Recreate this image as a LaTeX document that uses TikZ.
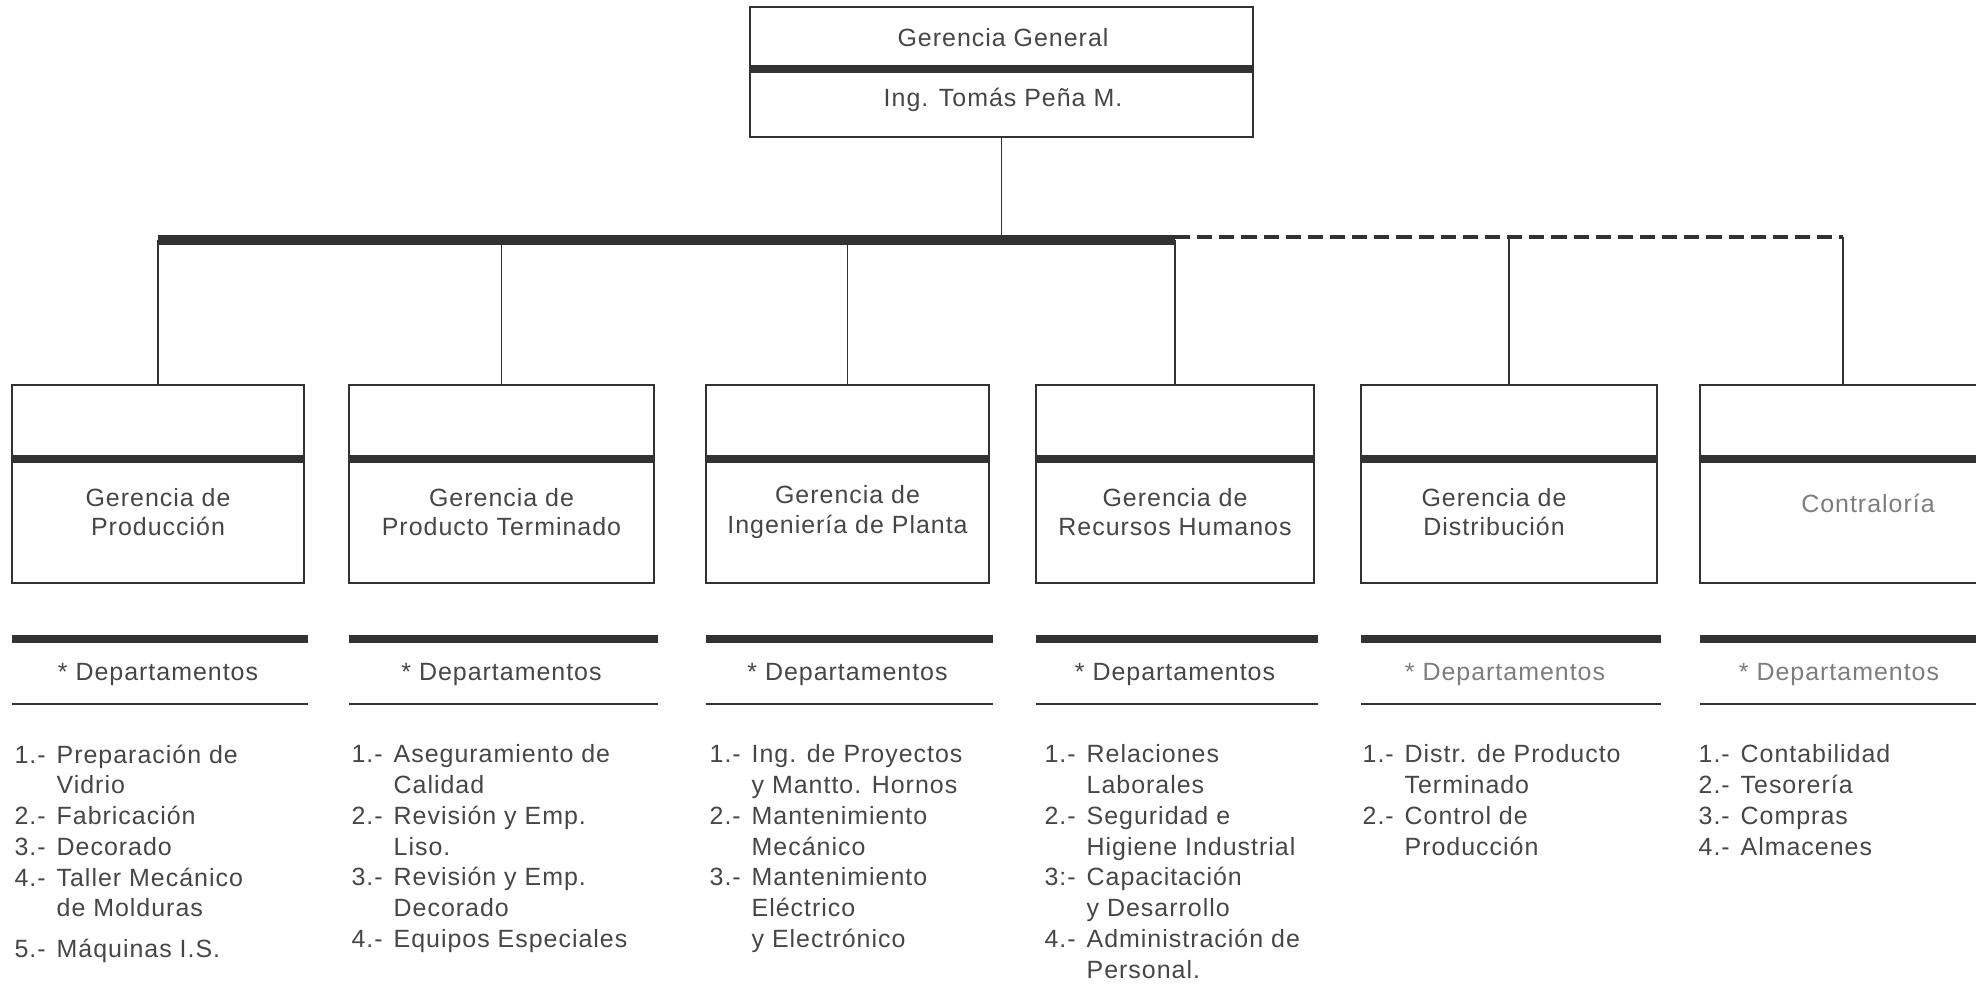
\documentclass[tikz,border=0pt]{standalone}
\usepackage{fontspec}
\setmainfont{Liberation Sans}[LetterSpace=4.0]
\usepackage{tikz}
\usetikzlibrary{positioning, calc}
\definecolor{myline}{RGB}{50,50,50}
\definecolor{mytext}{RGB}{70,70,70}
\definecolor{myfaded}{RGB}{125,125,125}
\newcommand{\boxfont}{\fontsize{7.1}{8.3}\selectfont}
\newcommand{\listfont}{\fontsize{7.1}{8.75}\selectfont}
\newlength{\numw}
\setlength{\numw}{0.42cm}
\newcommand{\itm}[2]{\makebox[\numw][l]{#1}#2}
\newcommand{\itmc}[1]{\hspace*{\numw}#1}
\tikzset{
  headbox/.style={rectangle, draw=myline, line width=0.6pt,
    minimum width=5.03cm, minimum height=1.30cm, inner sep=0pt},
  orgbox/.style={rectangle, draw=myline, line width=0.6pt,
    minimum height=1.98cm, inner sep=0pt},
  boxtext/.style={align=center, font=\boxfont, text=mytext, inner sep=0pt},
  divider/.style={line width=2.3pt, color=myline},
  busline/.style={line width=2.8pt, color=myline},
  dashbus/.style={line width=1.1pt, color=myline, dash pattern=on 4.3pt off 2pt},
  line/.style={line width=0.55pt, color=myline},
  thinline/.style={line width=0.6pt, color=myline},
  depthead/.style={font=\boxfont, text=mytext, inner sep=0pt},
  deptlist/.style={anchor=north west, align=left, inner sep=0pt, font=\listfont, text=mytext}
}

\begin{document}
\begin{tikzpicture}
  \useasboundingbox (0,0) rectangle (19.76,-9.88);
  \node[headbox] (gg) at (10.015,-0.72) {};
  \draw[divider] ($(gg.west)+(0,0.03)$) -- ($(gg.east)+(0,0.03)$);
  \node[boxtext] (ggT) at (10.03,-0.38) {Gerencia General};
  \node[boxtext] (ggN) at (10.03,-1.00) {Ing. Tomás Peña M.};

  \node[orgbox, minimum width=2.92cm] (prod) at (1.58,-4.84) {};
  \node[orgbox, minimum width=3.05cm] (prodt) at (5.015,-4.84) {};
  \node[orgbox, minimum width=2.83cm] (ing) at (8.475,-4.84) {};
  \node[orgbox, minimum width=2.78cm] (rrhh) at (11.75,-4.84) {};
  \node[orgbox, minimum width=2.96cm] (dist) at (15.09,-4.84) {};
  \node[orgbox, minimum width=2.86cm] (contra) at (18.43,-4.84) {};

  \foreach \n in {prod,prodt,ing,rrhh,dist,contra}{
    \draw[divider] ($(\n.north west)+(0,-0.75)$) -- ($(\n.north east)+(0,-0.75)$);
    \draw[divider] ($(\n.south west)+(0.01,-0.55)$) -- ($(\n.south east)+(0.03,-0.55)$);
    \draw[thinline] ($(\n.south west)+(0.01,-1.20)$) -- ($(\n.south east)+(0.03,-1.20)$);
  }

  \node[boxtext] at ($(prod)+(0,-0.28)$) {Gerencia de\\Producción};
  \node[boxtext] at ($(prodt)+(0,-0.28)$) {Gerencia de\\Producto Terminado};
  \node[boxtext] at ($(ing)+(0,-0.28)$) {Gerencia de\\Ingeniería de Planta};
  \node[boxtext] at ($(rrhh)+(0,-0.28)$) {Gerencia de\\Recursos Humanos};
  \node[boxtext] at ($(dist)+(-0.15,-0.28)$) {Gerencia de\\Distribución};
  \node[boxtext, text=myfaded] at ($(contra)+(0.25,-0.19)$) {Contraloría};

  \foreach \n in {prod,prodt,ing,rrhh}
    \node[depthead] at ($(\n.south)+(0,-0.90)$) {* Departamentos};
  \foreach \n in {dist,contra}
    \node[depthead, text=myfaded] at ($(\n.south)+(-0.04,-0.90)$) {* Departamentos};

  \coordinate (bus) at (0,-2.40);
  \coordinate (dbus) at (0,-2.37);
  \draw[line] (gg.south) -- (gg.south |- bus);
  \draw[busline] (prod.north |- bus) -- (rrhh.north |- bus);
  \draw[dashbus] (rrhh.north |- dbus) -- (contra.north |- dbus);
  \foreach \n in {prod,prodt,ing,rrhh}
    \draw[line] (\n.north |- bus) -- (\n.north);
  \foreach \n in {dist,contra}
    \draw[line] (\n.north |- dbus) -- (\n.north);

  \node[deptlist] (prodL) at ($(prod.south west)+(0.03,-1.60)$) {%
    \itm{1.-}{Preparación de}\\ \itmc{Vidrio}\\ \itm{2.-}{Fabricación}\\
    \itm{3.-}{Decorado}\\ \itm{4.-}{Taller Mecánico}\\ \itmc{de Molduras}\\[2.8pt]
    \itm{5.-}{Máquinas I.S.}};
  \node[deptlist] (prodtL) at ($(prodt.south west)+(0.03,-1.60)$) {%
    \itm{1.-}{Aseguramiento de}\\ \itmc{Calidad}\\ \itm{2.-}{Revisión y Emp.}\\
    \itmc{Liso.}\\ \itm{3.-}{Revisión y Emp.}\\ \itmc{Decorado}\\
    \itm{4.-}{Equipos Especiales}};
  \node[deptlist] (ingL) at ($(ing.south west)+(0.04,-1.60)$) {%
    \itm{1.-}{Ing. de Proyectos}\\ \itmc{y Mantto. Hornos}\\ \itm{2.-}{Mantenimiento}\\
    \itmc{Mecánico}\\ \itm{3.-}{Mantenimiento}\\ \itmc{Eléctrico}\\
    \itmc{y Electrónico}};
  \node[deptlist] (rrhhL) at ($(rrhh.south west)+(0.09,-1.60)$) {%
    \itm{1.-}{Relaciones}\\ \itmc{Laborales}\\ \itm{2.-}{Seguridad e}\\
    \itmc{Higiene Industrial}\\ \itm{3:-}{Capacitación}\\ \itmc{y Desarrollo}\\
    \itm{4.-}{Administración de}\\ \itmc{Personal.}};
  \node[deptlist] (distL) at ($(dist.south west)+(0.02,-1.60)$) {%
    \itm{1.-}{Distr. de Producto}\\ \itmc{Terminado}\\ \itm{2.-}{Control de}\\
    \itmc{Producción}};
  \node[deptlist] (contraL) at ($(contra.south west)+(-0.01,-1.60)$) {%
    \itm{1.-}{Contabilidad}\\ \itm{2.-}{Tesorería}\\ \itm{3.-}{Compras}\\
    \itm{4.-}{Almacenes}};
\end{tikzpicture}
\end{document}
